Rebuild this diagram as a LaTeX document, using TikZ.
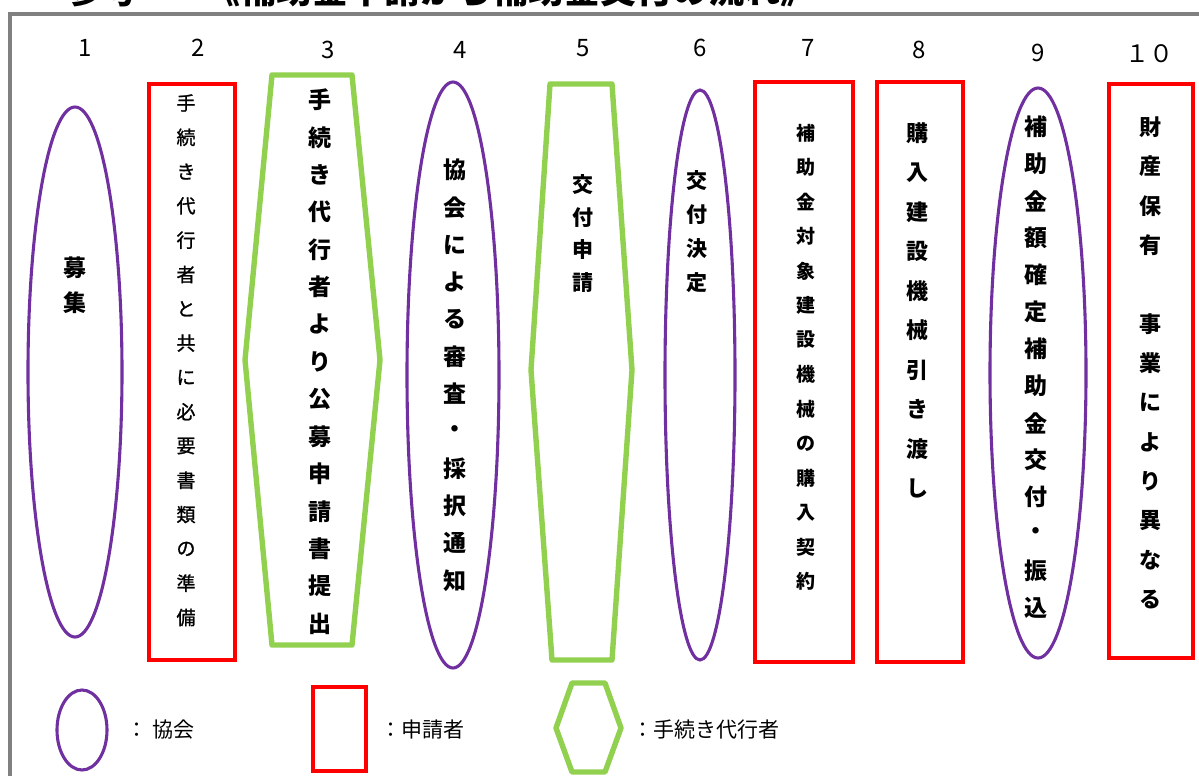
\documentclass[tikz,border=0pt]{standalone}
\usepackage{fontspec}
\newfontfamily\jp{Noto Sans CJK JP}
\newfontfamily\jpm{Noto Sans CJK JP}[FakeBold=1.2]
\definecolor{kpurple}{RGB}{112,48,160}
\definecolor{kred}{RGB}{255,0,0}
\definecolor{kgreen}{RGB}{146,208,80}
\definecolor{kframe}{RGB}{128,128,128}
\tikzset{
  assoc/.style={draw=kpurple, line width=3.1pt},
  applicant/.style={draw=kred, line width=3.3pt},
  agent/.style={draw=kgreen, line width=5.4pt, line join=round},
  num/.style={font=\jp\fontsize{24}{24}\selectfont, inner sep=0pt},
  legtext/.style={font=\jp\fontsize{21}{21}\selectfont, inner sep=0pt, anchor=west},
  cjkA/.style={font=\jp\bfseries\fontsize{23}{23}\selectfont, inner sep=0pt},
  cjkB/.style={font=\jp\bfseries\fontsize{22}{22}\selectfont, inner sep=0pt},
  cjkS/.style={font=\jp\bfseries\fontsize{21}{21}\selectfont, inner sep=0pt},
  cjkC/.style={font=\jp\bfseries\fontsize{19}{19}\selectfont, inner sep=0pt},
  cjkR/.style={font=\jpm\fontsize{19}{19}\selectfont, inner sep=0pt},
  titletext/.style={font=\jp\bfseries\fontsize{36}{36}\selectfont, inner sep=0pt, anchor=base west},
}
\newcommand\vcol[6]{\foreach \ch [count=\i] in {#6}{\node[#5] (#1\i) at (#2,{#3+(\i-1)*#4}) {\ch};}}
\begin{document}
\begin{tikzpicture}[x=1pt,y=-1pt]
\useasboundingbox (0,0) rectangle (1199,776);
\begin{scope}
\clip (0,0) rectangle (1199,776);
% title (cut off at the top, as in the reference)
\node[titletext] (title1) at (66,4) {参考};
\node[titletext] (title2) at (204,4) {《補助金申請から補助金交付の流れ》};
% frame
\draw[kframe, line width=4.5pt] (10,1200) -- (10,14) -- (1300,14);
% step numbers
\node[num] (n1) at (85,48) {1};
\node[num] (n2) at (198,48) {2};
\node[num] (n3) at (328,50) {3};
\node[num] (n4) at (460,50) {4};
\node[num] (n5) at (583,48) {5};
\node[num] (n6) at (700,48) {6};
\node[num] (n7) at (808,48) {7};
\node[num] (n8) at (919,50) {8};
\node[num] (n9) at (1038,53) {9};
\node[num] (n10) at (1149,54) {１０};
% shapes
\draw[assoc] (75,372) ellipse [x radius=47, y radius=265];
\draw[applicant] (149,84) rectangle (235,660);
\draw[agent] (272,75) -- (352,75) -- (380,360) -- (352,645) -- (272,645) -- (245,360) -- cycle;
\draw[assoc] (453,375) ellipse [x radius=46, y radius=293];
\draw[agent] (550,84) -- (612,84) -- (632,370) -- (612,660) -- (552,660) -- (531,370) -- cycle;
\draw[assoc] (700,375) ellipse [x radius=35, y radius=285];
\draw[applicant] (755,82) rectangle (853,662);
\draw[applicant] (877,82) rectangle (963,662);
\draw[assoc] (1038,373) ellipse [x radius=48, y radius=285];
\draw[applicant] (1109,84) rectangle (1193,658);
% texts
\vcol{c1-}{75}{268}{35}{cjkA}{募,集}
\vcol{c2-}{186}{103}{34.3}{cjkR}{手,続,き,代,行,者,と,共,に,必,要,書,類,の,準,備}
\vcol{c3-}{320}{100}{37.4}{cjkA}{手,続,き,代,行,者,よ,り,公,募,申,請,書,提,出}
\vcol{c4-}{455}{170}{37.3}{cjkA}{協,会,に,よ,る,審,査,・,採,択,通,知}
\vcol{c5-}{583}{185}{32.5}{cjkS}{交,付,申,請}
\vcol{c6-}{697}{181}{34}{cjkS}{交,付,決,定}
\vcol{c7-}{806}{133}{34.5}{cjkC}{補,助,金,対,象,建,設,機,械,の,購,入,契,約}
\vcol{c8-}{917}{133}{39.5}{cjkB}{購,入,建,設,機,械,引,き,渡,し}
\vcol{c9-}{1036}{127}{37}{cjkA}{補,助,金,額,確,定,補,助,金,交,付,・,振,込}
\vcol{c10a-}{1150}{127}{39.4}{cjkB}{財,産,保,有}
\vcol{c10b-}{1150}{324}{39.4}{cjkB}{事,業,に,よ,り,異,な,る}
% legend
\draw[assoc] (82,730) ellipse [x radius=25, y radius=40];
\node[legtext] (l1) at (126,730) {：\hspace{5pt}協会};
\draw[applicant] (313,687) rectangle (366,771);
\node[legtext] (l2) at (380,730) {：申請者};
\draw[agent] (572,683) -- (605,683) -- (621,728) -- (605,772) -- (572,772) -- (556,728) -- cycle;
\node[legtext] (l3) at (632,730) {：手続き代行者};
\end{scope}
\end{tikzpicture}
\end{document}
